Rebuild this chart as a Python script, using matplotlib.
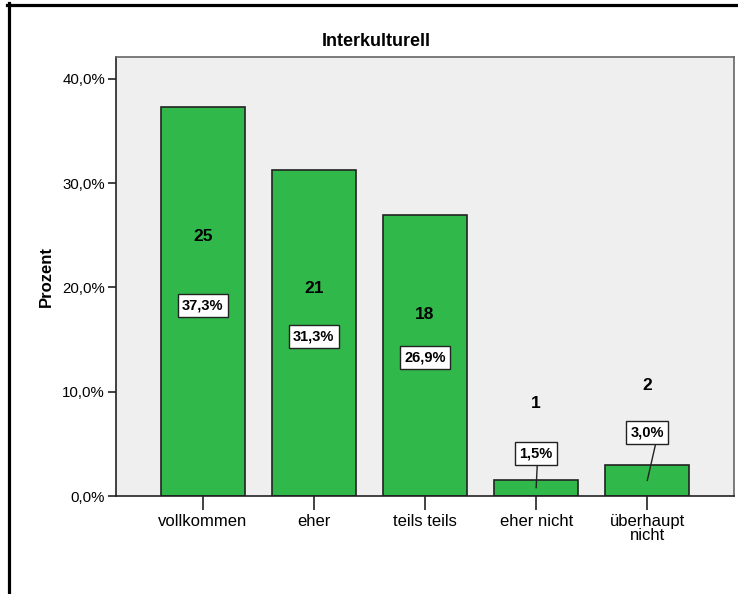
import matplotlib
matplotlib.use("Agg")
import matplotlib.pyplot as plt
from matplotlib.lines import Line2D

plt.rcParams['font.family'] = ['Liberation Sans', 'DejaVu Sans']

categories = ["vollkommen", "eher", "teils teils", "eher nicht", "überhaupt\nnicht"]
percent = [37.3, 31.3, 26.9, 1.5, 3.0]
counts = [25, 21, 18, 1, 2]
# where the labels sit (in percent units)
count_y = [24.9, 19.9, 17.4, 8.9, 10.6]
pct_y = [18.3, 15.3, 13.3, 4.1, 6.1]
leader_end = [None, None, None, 0.8, 1.5]
leader_top_dx = [0, 0, 0, 0.01, 0.075]

W, H = 738, 594
fig = plt.figure(figsize=(W / 100, H / 100), dpi=100)
ax = fig.add_axes([116 / W, (H - 496) / H, 618 / W, 439 / H])
ax.set_facecolor('#efefef')

x = range(len(categories))
ax.bar(x, percent, width=0.757, color='#30b84a', edgecolor='#222222', linewidth=1.2, zorder=2)

for i in x:
    ax.text(i, count_y[i], str(counts[i]), ha='center', va='center',
            fontsize=12.5, fontweight='bold', zorder=4)
    if leader_end[i] is not None:
        ax.plot([i + leader_top_dx[i], i], [pct_y[i] - 1.1, leader_end[i]],
                color='#222222', lw=1, zorder=3)
    ax.text(i, pct_y[i], f"{percent[i]:.1f}%".replace('.', ','), ha='center', va='center',
            fontsize=10.5, fontweight='bold', zorder=5,
            bbox=dict(boxstyle='square,pad=0.3', fc='white', ec='#222222', lw=1))

ax.set_xlim(-0.78, 4.78)
ax.set_ylim(0, 42.1)
ax.set_yticks([0, 10, 20, 30, 40])
ax.set_yticklabels(["0,0%", "10,0%", "20,0%", "30,0%", "40,0%"])
ax.set_xticks(list(x))
ax.set_xticklabels(categories, linespacing=0.95)
ax.tick_params(axis='y', length=6, width=1.2, labelsize=10.8, pad=2, color='#222222')
ax.tick_params(axis='x', length=10, width=1.2, labelsize=12, pad=3, color='#222222')
for side in ['left', 'bottom']:
    ax.spines[side].set_color('#222222')
    ax.spines[side].set_linewidth(1.2)
for side in ['top', 'right']:
    ax.spines[side].set_color('#666666')
    ax.spines[side].set_linewidth(1.2)

ax.set_ylabel("Prozent", fontsize=12, fontweight='bold', labelpad=6)
fig.text(376 / W, 1 - 41 / H, "Interkulturell", ha='center', va='center',
         fontsize=13, fontweight='bold')

# frame lines along the top and left edge
fig.add_artist(Line2D([7 / W, 1], [1 - 4.5 / H] * 2, transform=fig.transFigure,
                      color='black', lw=2.3))
fig.add_artist(Line2D([8.5 / W] * 2, [0, 1 - 3 / H], transform=fig.transFigure,
                      color='black', lw=2.3))

fig.savefig("out.png", dpi=100, facecolor='white')
